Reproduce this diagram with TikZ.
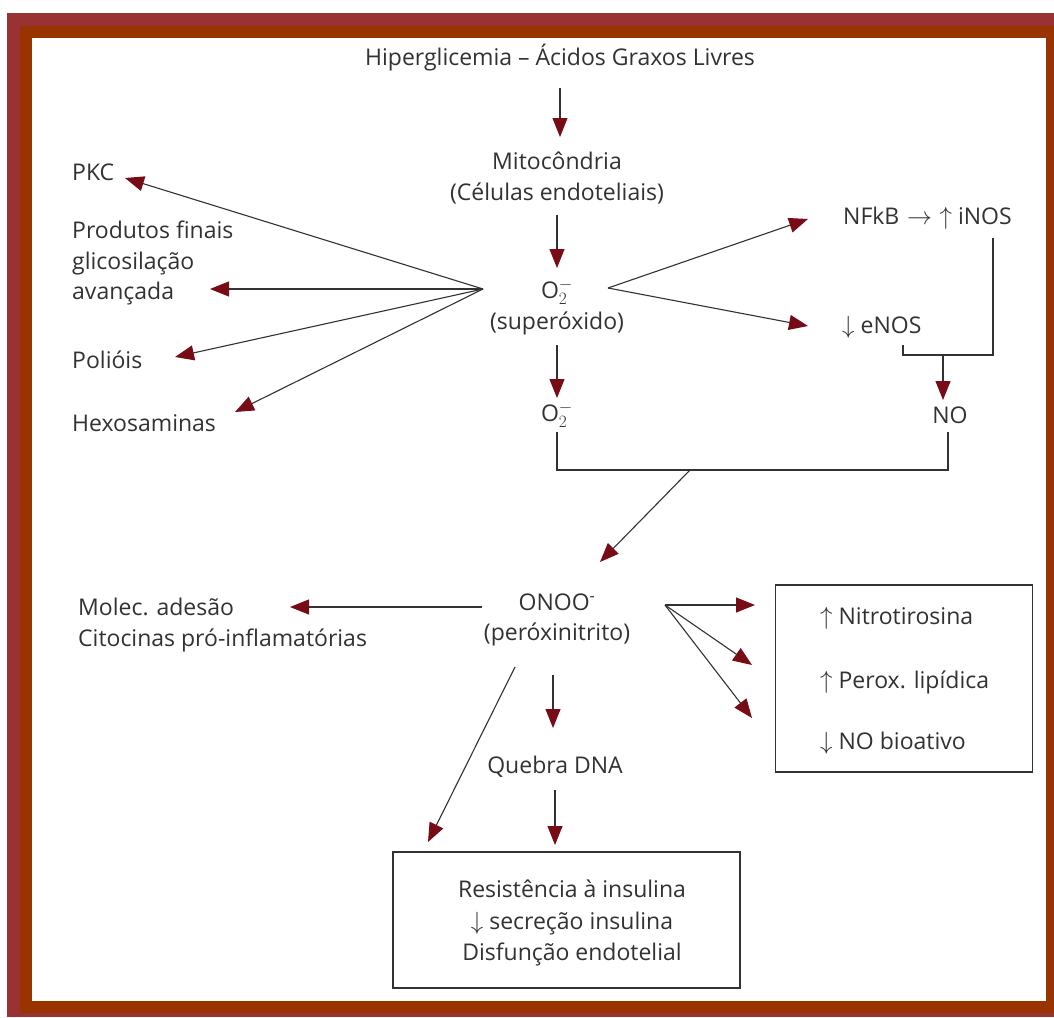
\documentclass[tikz,border=0pt]{standalone}
\usepackage{fontspec}
\setmainfont{Open Sans}
\usetikzlibrary{arrows.meta}
\definecolor{outerred}{RGB}{153,51,51}
\definecolor{innerred}{RGB}{153,51,0}
\definecolor{tipred}{RGB}{120,12,22}
\definecolor{ink}{RGB}{50,50,50}
\newcommand{\supox}{O$_{2}^{-}$}
\begin{document}
\begin{tikzpicture}[x=1pt,y=-1pt,
  lbl/.style={inner sep=0pt, font=\fontsize{23}{30.5}\selectfont, text=ink, align=center},
  lblL/.style={lbl, anchor=west, align=left},
  arr/.style={draw=ink, line width=1.1pt, -{Triangle[length=19pt,width=15pt,color=tipred]}},
  ln/.style={draw=ink, line width=1.1pt},
  boxed/.style={draw=ink, line width=1.2pt, inner sep=0pt}]
% frame
\fill[white] (0,0) rectangle (1054,1017);
\fill[outerred] (7,13) rectangle (1054,1017);
\fill[innerred] (20,26) rectangle (1054,1013);
\fill[white] (32,38) rectangle (1046,1001);
\useasboundingbox (0,0) rectangle (1054,1017);
% central column
\node[lbl] (hip) at (560,58) {Hiperglicemia -- Ácidos Graxos Livres};
\node[lbl] (mito) at (557,178) {Mitocôndria\\(Células endoteliais)};
\node[lbl] (sup) at (557,307) {\supox\\(superóxido)};
\node[lbl] (o2) at (557,415) {\supox};
\node[lbl] (no) at (950,415) {NO};
\node[lbl] (onoo) at (557,620) {ONOO\textsuperscript{-}\\(peróxinitrito)};
\node[lbl] (dna) at (555,767) {Quebra DNA};
% left column
\node[lblL] (pkc) at (72,172) {PKC};
\node[lblL] (prod) at (72,263) {Produtos finais\\glicosilação\\avançada};
\node[lblL] (poli) at (72,360) {Polióis};
\node[lblL] (hexo) at (72,423) {Hexosaminas};
\node[lblL] (mol) at (78,625) {Molec. adesão\\Citocinas pró-inflamatórias};
% right column
\node[lblL] (nfkb) at (843,218) {NFkB\,\,$\rightarrow$\,\,$\uparrow$ iNOS};
\node[lblL] (enos) at (842,327) {$\downarrow$ eNOS};
% boxes
\node[boxed, minimum width=257pt, minimum height=187pt] (rbox) at (904,678.5) {};
\node[lblL] (nitro) at (820,618) {$\uparrow$ Nitrotirosina};
\node[lblL] (perox) at (820,682) {$\uparrow$ Perox. lipídica};
\node[lblL] (nobio) at (820,743) {$\downarrow$ NO bioativo};
\node[boxed, minimum width=347pt, minimum height=136pt] (res) at (566.5,920) {};
\node[lbl, font=\fontsize{23}{31.5}\selectfont] (restext) at (572,923)
  {Resistência à insulina\\$\downarrow$ secreção insulina\\Disfunção endotelial};
% connector coordinates
\coordinate (hipS) at (560,88);   \coordinate (mitoN) at (560,137);
\coordinate (mitoS) at (557,215); \coordinate (supN) at (557,268);
\coordinate (supS) at (557,345);  \coordinate (o2N) at (557,398);
\coordinate (supW) at (483,289);  \coordinate (supE) at (608,288);
\coordinate (pkcT) at (125,178);  \coordinate (prodT) at (210,289);
\coordinate (poliT) at (175,357); \coordinate (hexoT) at (235,412);
\coordinate (nfkbT) at (808,219); \coordinate (enosT) at (808,326);
\coordinate (inosR) at (993,238); \coordinate (inosC) at (993,355);
\coordinate (enosB) at (903,345); \coordinate (enosC) at (903,355);
\coordinate (noJ) at (943,355);   \coordinate (noN) at (943,400);
\coordinate (o2S) at (557,432);   \coordinate (o2C) at (557,470);
\coordinate (noS) at (948,432);   \coordinate (noC) at (948,470);
\coordinate (brJ) at (690,470);   \coordinate (onooT) at (600,562);
\coordinate (onooW) at (482,607); \coordinate (molT) at (290,607);
\coordinate (onooE) at (665,605);
\coordinate (nitroT) at (755,605); \coordinate (peroxT) at (752,665); \coordinate (nobioT) at (752,718);
\coordinate (onooS) at (553,675); \coordinate (dnaN) at (553,728);
\coordinate (onooSW) at (515,667); \coordinate (resT1) at (428,842);
\coordinate (dnaS) at (555,790);  \coordinate (resT2) at (555,845);
% connectors
\draw[arr] (hipS) -- (mitoN);
\draw[arr] (mitoS) -- (supN);
\draw[arr] (supS) -- (o2N);
\draw[arr] (supW) -- (pkcT);
\draw[arr] (supW) -- (prodT);
\draw[arr] (supW) -- (poliT);
\draw[arr] (supW) -- (hexoT);
\draw[arr] (supE) -- (nfkbT);
\draw[arr] (supE) -- (enosT);
\draw[ln] (inosR) -- (inosC) -- (enosC) -- (enosB);
\draw[arr] (noJ) -- (noN);
\draw[ln] (o2S) -- (o2C) -- (noC) -- (noS);
\draw[arr] (brJ) -- (onooT);
\draw[arr] (onooW) -- (molT);
\draw[arr] (onooE) -- (nitroT);
\draw[arr] (onooE) -- (peroxT);
\draw[arr] (onooE) -- (nobioT);
\draw[arr] (onooS) -- (dnaN);
\draw[arr] (onooSW) -- (resT1);
\draw[arr] (dnaS) -- (resT2);
\end{tikzpicture}
\end{document}
